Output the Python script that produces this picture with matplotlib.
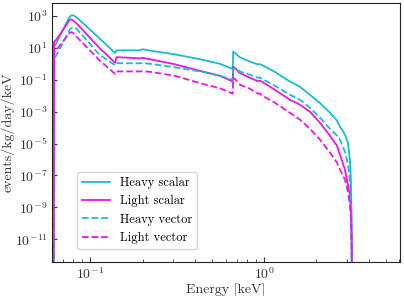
import numpy as np
import matplotlib
matplotlib.use("Agg")
import matplotlib.pyplot as plt
from matplotlib.ticker import FixedLocator, NullLocator, LogLocator, NullFormatter

plt.rcParams['font.family'] = ['cmr10', 'DejaVu Serif']
plt.rcParams['mathtext.fontset'] = 'cm'
plt.rcParams['axes.formatter.use_mathtext'] = True

# Energy grid (keV)
energy = [0.0614, 0.0619, 0.0639, 0.0702, 0.0760, 0.0780, 0.0801, 0.0834, 0.1131,
          0.1390, 0.1415, 0.1684, 0.1923, 0.2001, 0.2083, 0.2196, 0.3059, 0.4262,
          0.5557, 0.6600, 0.6640, 0.6871, 0.7245, 0.8271, 0.9198, 0.9445, 0.9700,
          1.152, 1.406, 1.606, 1.833, 2.094, 2.390, 2.623, 2.730, 2.917, 3.035,
          3.117, 3.159, 3.188, 3.201]

# log10 of rate (events/kg/day/keV)
heavy_scalar = [-14, 1.06, 1.31, 2.21, 2.94, 3.04, 3.03, 2.91, 1.59,
                0.67, 0.84, 0.84, 0.84, 0.91, 0.875, 0.83, 0.59, 0.29,
                0.0, -0.33, 0.77, 0.625, 0.41, 0.14, -0.04, -0.02, -0.07,
                -0.5, -1.11, -1.44, -1.94, -2.46, -3.06, -3.56, -3.92, -4.44, -4.94,
                -6.0, -7.25, -9.75, -14]
light_scalar = [-14, 1.36, 1.53, 2.16, 2.75, 2.78, 2.69, 2.53, 0.98,
                0.06, 0.41, 0.375, 0.34, 0.375, 0.33, 0.29, -0.03, -0.44,
                -0.75, -1.11, -0.19, -0.31, -0.58, -0.875, -1.09, -1.06, -1.12,
                -1.625, -2.25, -2.56, -3.0, -3.69, -4.5, -5.125, -5.69, -6.625, -7.56,
                -8.19, -9.125, -11.0, -14]
heavy_vector = [-14, 0.25, 0.56, 1.375, 2.125, 2.25, 2.29, 2.19, 0.56,
                -0.09, 0.04, 0.03, 0.03, 0.05, 0.025, 0.0, -0.22, -0.48,
                -0.75, -1.0, -0.31, -0.34, -0.48, -0.69, -0.875, -0.86, -0.94,
                -1.375, -1.94, -2.25, -2.75, -3.375, -4.06, -4.5, -4.75, -5.5, -6.31,
                -7.25, -8.5, -10.375, -14]
light_vector = [-14, 0.69, 0.875, 1.44, 1.94, 1.98, 1.91, 1.69, 0.22,
                -0.64, -0.48, -0.48, -0.48, -0.47, -0.49, -0.5, -0.75, -1.21,
                -1.53, -1.875, -0.89, -1.0, -1.31, -1.56, -1.875, -1.86, -1.97,
                -2.44, -3.06, -3.5, -4.06, -4.75, -5.56, -6.19, -6.625, -7.25, -8.0,
                -8.81, -9.75, -11.31, -14]

labels = ["Heavy scalar", "Light scalar", "Heavy vector", "Light vector"]
cyan = '#17bcd2'
magenta = '#ea16ea'

fig = plt.figure(figsize=(4.04, 2.96), dpi=100)
ax = fig.add_axes([0.128, 0.115, 0.862, 0.875])

E = np.array(energy)
series = [heavy_scalar, light_scalar, heavy_vector, light_vector]
styles = [(cyan, '-'), (magenta, '-'), (cyan, '--'), (magenta, '--')]
for s, lab, (c, ls) in zip(series, labels, styles):
    ax.plot(E, 10.0 ** np.array(s), color=c, ls=ls, lw=1.3, label=lab)

ax.set_xscale('log')
ax.set_yscale('log')
ax.set_xlim(0.06, 6.05)
ax.set_ylim(10 ** -12.42, 10 ** 3.81)

ax.yaxis.set_major_locator(FixedLocator([10.0 ** k for k in range(-11, 4, 2)]))
ax.yaxis.set_minor_locator(NullLocator())
ax.xaxis.set_minor_locator(LogLocator(base=10, subs=np.arange(2, 10)))
ax.xaxis.set_minor_formatter(NullFormatter())

ax.tick_params(which='both', direction='in', labelsize=10, colors='#333333')
ax.tick_params(which='major', length=3.5, pad=3)
ax.tick_params(which='minor', length=2)
for sp in ax.spines.values():
    sp.set_color('#222222')

ax.set_xlabel('Energy [keV]', fontsize=10, color='#333333', labelpad=1)
ax.set_ylabel('events/kg/day/keV', fontsize=10, color='#333333', labelpad=0)

leg = ax.legend(loc='lower left', bbox_to_anchor=(0.073, 0.05), borderaxespad=0,
                fontsize=9, handlelength=2.2, frameon=True)

fig.savefig('out.png', dpi=100)
